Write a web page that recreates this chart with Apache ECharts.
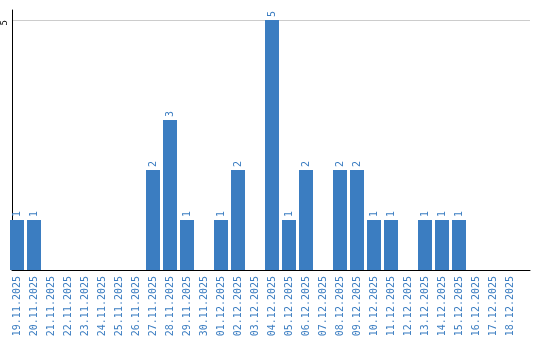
<!DOCTYPE html>
<html><head><meta charset="utf-8">
<script src="https://cdn.jsdelivr.net/npm/echarts@6/dist/echarts.min.js"></script>
<style>html,body{margin:0;padding:0;background:#fff}#c{width:540px;height:340px}</style>
</head><body><div id="c"></div>
<script>
const categories = ['19.11.2025','20.11.2025','21.11.2025','22.11.2025','23.11.2025','24.11.2025','25.11.2025','26.11.2025','27.11.2025','28.11.2025','29.11.2025','30.11.2025','01.12.2025','02.12.2025','03.12.2025','04.12.2025','05.12.2025','06.12.2025','07.12.2025','08.12.2025','09.12.2025','10.12.2025','11.12.2025','12.12.2025','13.12.2025','14.12.2025','15.12.2025','16.12.2025','17.12.2025','18.12.2025'];
const values = [1,1,0,0,0,0,0,0,2,3,1,0,1,2,0,5,1,2,0,2,2,1,1,0,1,1,1,0,0,0];
const yTicks = [5];

const blue = '#3b7dc1';
const font = 'DejaVu Sans Mono';
const chart = echarts.init(document.getElementById('c'));
chart.setOption({
  animation: false,
  grid: [
    {left: 8.5, top: 10, width: 510, height: 260},
    {left: 10, top: 10, width: 520, height: 260}
  ],
  xAxis: [
    {type: 'category', gridIndex: 0, data: categories,
     axisLine: {show: false}, axisTick: {show: false},
     axisLabel: {rotate: 90, interval: 0, margin: 6, color: blue, fontFamily: font, fontSize: 10}},
    {type: 'value', gridIndex: 1, min: 0, max: 1,
     axisLine: {show: true, onZero: false, lineStyle: {color: '#000', width: 1}},
     axisTick: {show: false}, axisLabel: {show: false}, splitLine: {show: false}}
  ],
  yAxis: [
    {type: 'value', gridIndex: 0, min: 0, max: 5.2, show: false},
    {type: 'value', gridIndex: 1, min: 0, max: 5.2, interval: 5,
     axisLine: {show: true, lineStyle: {color: '#000', width: 1}},
     axisTick: {show: false},
     axisLabel: {rotate: 90, margin: 3, align: 'right', verticalAlign: 'bottom', color: '#000', fontFamily: font, fontSize: 9,
       formatter: v => yTicks.includes(v) ? String(v) : ''},
     splitLine: {show: true, lineStyle: {color: ['rgba(0,0,0,0)', '#cccccc', 'rgba(0,0,0,0)'], width: 1}}}
  ],
  series: [{
    type: 'bar', xAxisIndex: 0, yAxisIndex: 0,
    data: values.map(v => v === 0 ? {value: 0, label: {show: false}} : v),
    barWidth: 14,
    itemStyle: {color: blue},
    label: {show: true, position: 'top', rotate: 90, align: 'left', verticalAlign: 'middle',
      distance: 3, color: blue, fontFamily: font, fontSize: 10}
  }]
});
</script></body></html>
